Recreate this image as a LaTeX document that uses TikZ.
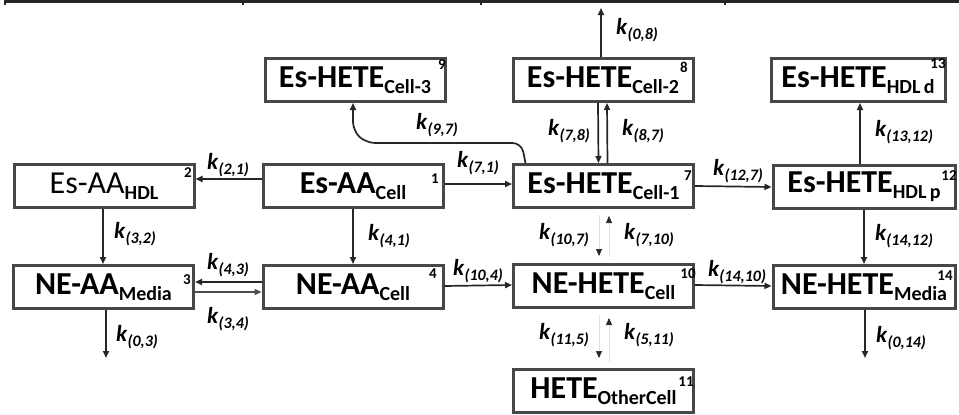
\documentclass[tikz,border=0pt]{standalone}
\usepackage{fontspec}
\setmainfont{Carlito}
\usetikzlibrary{arrows.meta}
\newcommand{\bxt}[2]{\fontsize{32}{32}\selectfont\textbf{#1}\raisebox{-6pt}{\fontsize{20}{20}\selectfont\textbf{#2}}}
\newcommand{\bxr}[2]{\fontsize{32}{32}\selectfont #1\raisebox{-6pt}{\fontsize{20}{20}\selectfont\textbf{#2}}}
\newcommand{\kl}[1]{{\fontsize{23}{23}\selectfont\textbf{\textit{k}}}\raisebox{-5pt}{\fontsize{16}{16}\selectfont\textbf{\textit{(#1)}}}}
\tikzset{
  box/.style={draw=black!72, line width=3pt, minimum width=180pt, minimum height=43pt, inner sep=0pt, fill=white},
  num/.style={font=\fontsize{15}{15}\selectfont\bfseries, inner sep=0pt},
  klab/.style={inner sep=0pt},
  arr/.style={line width=1.7pt, draw=black!85, -{Triangle[length=7pt,width=6pt]}},
  ghost/.style={line width=0.6pt, draw=black!12, -{Triangle[length=7pt,width=6pt,color=black!85]}},
}
\begin{document}
\begin{tikzpicture}[x=1pt,y=-1pt]
\useasboundingbox (0,0) rectangle (959,415);
% top rule remnant
\draw[line width=2.5pt, black!85] (4,1.5) -- (959,1.5);
\foreach \tx in {5,243,481,725} \draw[line width=1.5pt, black!85] (\tx,0) -- (\tx,5);

% boxes
\node[box] (n9) at (355,80) {\bxt{Es-HETE}{Cell-3}};
\node[box] (n8) at (603,80) {\bxt{Es-HETE}{Cell-2}};
\node[box, minimum width=174pt] (n13) at (858,80) {\bxt{Es-HETE}{HDL\,d}};
\node[box] (n2) at (104,186) {\bxr{Es-AA}{HDL}};
\node[box] (n1) at (353,186) {\bxt{Es-AA}{Cell}};
\node[box] (n7) at (603.5,186) {\bxt{Es-HETE}{Cell-1}};
\node[box, minimum width=182pt] (n12) at (864,186.5) {\bxt{Es-HETE}{HDL\,p}};
\node[box] (n3) at (103.5,287) {\bxt{NE-AA}{Media}};
\node[box] (n4) at (353,287) {\bxt{NE-AA}{Cell}};
\node[box] (n10) at (603.5,286) {\bxt{NE-HETE}{Cell}};
\node[box, minimum width=182pt] (n14) at (864,287) {\bxt{NE-HETE}{Media}};
\node[box] (n11) at (603.5,391) {\bxt{HETE}{OtherCell}};

% superscript numbers
\node[num] (s9) at (442,65) {9};
\node[num] (s8) at (684,67) {8};
\node[num] (s13) at (938,64) {13};
\node[num] (s2) at (188,173) {2};
\node[num] (s1) at (435,179) {1};
\node[num] (s7) at (688,176) {7};
\node[num] (s12) at (949,176) {12};
\node[num] (s3) at (187,280) {3};
\node[num] (s4) at (433,274) {4};
\node[num] (s10) at (688,274) {10};
\node[num] (s14) at (945,276) {14};
\node[num] (s11) at (686,382) {11};

% free ends
\coordinate (o8) at (601,8);
\coordinate (o3) at (106,358);
\coordinate (o14) at (865,358);

% connectors
\draw[arr] ([xshift=-2pt]n8.north) -- (o8);
\draw[arr] ([xshift=-5pt]n8.south) -- ([xshift=-5pt]n7.north);
\draw[arr] ([xshift=4pt]n7.north) -- ([xshift=4pt]n8.south);
\draw[arr, rounded corners=9pt] ([xshift=-78pt]n7.north) -- ++(-4,-20) -- (366,143) -- ++(-13,-12) -- ([xshift=-2pt]n9.south);
\draw[arr] ([xshift=-4pt]n12.north) -- ([xshift=2pt]n13.south);
\draw[arr] ([yshift=7pt]n1.west) -- ([yshift=7pt]n2.east);
\draw[arr] ([yshift=2pt]n1.east) -- ([yshift=2pt]n7.west);
\draw[arr] ([yshift=0pt]n7.east) -- ([yshift=-0.5pt]n12.west);
\draw[arr] ([xshift=-1pt]n2.south) -- ([xshift=-0.5pt]n3.north);
\draw[arr] (n1.south) -- (n4.north);
\draw[ghost, shorten >=7pt, shorten <=6pt] ([xshift=5.5pt]n10.north) -- ([xshift=5.5pt]n7.south);
\draw[ghost, shorten >=7pt, shorten <=6pt] ([xshift=-4.5pt]n7.south) -- ([xshift=-4.5pt]n10.north);
\draw[arr] (n12.south) -- (n14.north);
\draw[arr, draw=black!70] ([yshift=-5pt]n3.east) -- ([yshift=-5pt]n4.west);
\draw[arr, line width=2.3pt] ([yshift=5pt]n4.west) -- ([yshift=5pt]n3.east);
\draw[arr] ([yshift=1pt]n4.east) -- ([yshift=1pt]n10.west);
\draw[arr] ([yshift=1pt]n10.east) -- ([yshift=1pt]n14.west);
\draw[arr] ([xshift=2.5pt]n3.south) -- (o3);
\draw[arr] ([xshift=1pt]n14.south) -- (o14);
\draw[ghost, shorten >=9pt, shorten <=6pt] ([xshift=5.5pt]n11.north) -- ([xshift=5.5pt]n10.south);
\draw[ghost, shorten >=10pt, shorten <=6pt] ([xshift=-4.5pt]n10.south) -- ([xshift=-4.5pt]n11.north);

% rate labels
\node[klab] (k08) at (637,30) {\kl{0,8}};
\node[klab] (k97) at (437,125) {\kl{9,7}};
\node[klab] (k78) at (569,131) {\kl{7,8}};
\node[klab] (k87) at (643,131) {\kl{8,7}};
\node[klab] (k1312) at (904,132) {\kl{13,12}};
\node[klab] (k21) at (228,165) {\kl{2,1}};
\node[klab] (k71) at (478,163) {\kl{7,1}};
\node[klab] (k127) at (738,171) {\kl{12,7}};
\node[klab] (k32) at (135,234) {\kl{3,2}};
\node[klab] (k41) at (389,236) {\kl{4,1}};
\node[klab] (k107) at (564,235) {\kl{10,7}};
\node[klab] (k710) at (649,235) {\kl{7,10}};
\node[klab] (k1412) at (904,236) {\kl{14,12}};
\node[klab] (k43) at (228,265) {\kl{4,3}};
\node[klab] (k34) at (228,319) {\kl{3,4}};
\node[klab] (k104) at (478,271) {\kl{10,4}};
\node[klab] (k1410) at (737,272) {\kl{14,10}};
\node[klab] (k03) at (137,337) {\kl{0,3}};
\node[klab] (k014) at (901,338) {\kl{0,14}};
\node[klab] (k115) at (564,335) {\kl{11,5}};
\node[klab] (k511) at (649,335) {\kl{5,11}};
\end{tikzpicture}
\end{document}
